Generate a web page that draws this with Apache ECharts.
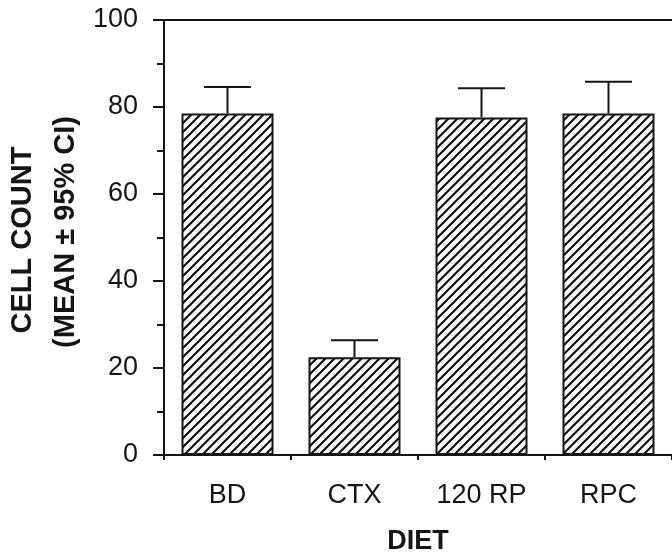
<!DOCTYPE html>
<html>
<head>
<meta charset="utf-8">
<script src="https://cdn.jsdelivr.net/npm/echarts@6/dist/echarts.min.js"></script>
<style>
html,body{margin:0;padding:0;background:#ffffff;}
#chart{width:672px;height:556px;}
</style>
</head>
<body>
<div id="chart"></div>
<script>
var categories = ['BD', 'CTX', '120 RP', 'RPC'];
var means = [78.5, 22.5, 77.6, 78.5];
var upperCI = [84.6, 26.4, 84.3, 85.8];
var yTicks = [0, 20, 40, 60, 80, 100];

function makeHatch() {
  var s = 9;
  var c = document.createElement('canvas');
  c.width = s; c.height = s;
  var ctx = c.getContext('2d');
  ctx.fillStyle = '#ffffff';
  ctx.fillRect(0, 0, s, s);
  ctx.strokeStyle = '#111111';
  ctx.lineWidth = 2.2;
  ctx.beginPath();
  ctx.moveTo(-1, s + 1); ctx.lineTo(s + 1, -1);
  ctx.moveTo(-2, 2); ctx.lineTo(2, -2);
  ctx.moveTo(s - 2, s + 2); ctx.lineTo(s + 2, s - 2);
  ctx.stroke();
  return c;
}

var chart = echarts.init(document.getElementById('chart'), null, {renderer: 'canvas'});
var FONT = '"Liberation Sans", Arial, Helvetica, sans-serif';
var ink = '#151515';

var option = {
  backgroundColor: '#ffffff',
  animation: false,
  grid: {left: 164, top: 20, right: 0, bottom: 101, containLabel: false, outerBoundsMode: 'none'},
  xAxis: [{
    type: 'category',
    data: categories,
    position: 'bottom',
    axisLine: {show: true, lineStyle: {color: ink, width: 2}},
    axisTick: {show: true, inside: false, length: 5, alignWithLabel: false, lineStyle: {color: ink, width: 2}},
    axisLabel: {color: ink, fontSize: 27, fontFamily: FONT, margin: 27},
    splitLine: {show: false},
    name: 'DIET',
    nameLocation: 'middle',
    nameGap: 73,
    nameTextStyle: {color: ink, fontSize: 27, fontWeight: 'bold', fontFamily: FONT}
  }, {
    type: 'category',
    data: categories,
    position: 'top',
    axisLine: {show: true, lineStyle: {color: ink, width: 2}},
    axisTick: {show: false},
    axisLabel: {show: false},
    splitLine: {show: false}
  }],
  yAxis: {
    type: 'value',
    min: yTicks[0],
    max: yTicks[yTicks.length - 1],
    interval: yTicks[1] - yTicks[0],
    axisLine: {show: true, lineStyle: {color: ink, width: 2}},
    axisTick: {show: true, inside: false, length: 11, lineStyle: {color: ink, width: 2}},
    minorTick: {show: true, splitNumber: 2, length: 7, lineStyle: {color: ink, width: 2}},
    axisLabel: {color: ink, fontSize: 27, fontFamily: FONT, margin: 26},
    splitLine: {show: false}
  },
  graphic: [{
    type: 'text',
    x: 23, y: 240,
    rotation: Math.PI / 2,
    style: {text: 'CELL COUNT', fill: ink, font: 'bold 29px ' + FONT, align: 'center', verticalAlign: 'middle'}
  }, {
    type: 'text',
    x: 66, y: 232,
    rotation: Math.PI / 2,
    style: {text: '(MEAN \u00B1 95% CI)', fill: ink, font: 'bold 29px ' + FONT, align: 'center', verticalAlign: 'middle'}
  }],
  series: [{
    type: 'bar',
    data: means,
    barWidth: 92,
    itemStyle: {
      color: {image: makeHatch(), repeat: 'repeat'},
      borderColor: ink,
      borderWidth: 2
    },
    z: 2
  }, {
    type: 'custom',
    data: categories.map(function (c, i) { return [i, means[i], upperCI[i]]; }),
    renderItem: function (params, api) {
      var base = api.coord([api.value(0), api.value(1)]);
      var top = api.coord([api.value(0), api.value(2)]);
      var half = 23.5;
      return {
        type: 'group',
        children: [{
          type: 'line',
          shape: {x1: base[0], y1: base[1], x2: top[0], y2: top[1]},
          style: {stroke: ink, lineWidth: 2}
        }, {
          type: 'line',
          shape: {x1: top[0] - half, y1: top[1], x2: top[0] + half, y2: top[1]},
          style: {stroke: ink, lineWidth: 2}
        }]
      };
    },
    z: 3
  }]
};
chart.setOption(option);
</script>
</body>
</html>
